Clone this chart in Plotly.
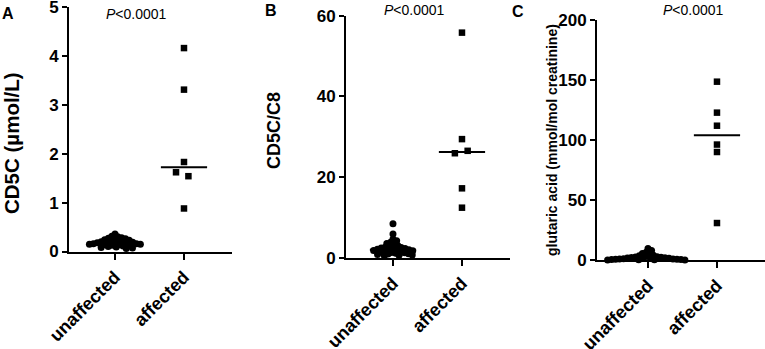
import numpy as np
import plotly.graph_objects as go

# ---------------- data ----------------
categories = ["unaffected", "affected"]

a_unaffected = [0.36, 0.31, 0.30, 0.28, 0.27, 0.26, 0.25, 0.24, 0.23, 0.22, 0.21,
                0.20, 0.20, 0.19, 0.18, 0.18, 0.17, 0.17, 0.16, 0.16, 0.15, 0.15,
                0.14, 0.14, 0.13, 0.12, 0.11, 0.10, 0.09, 0.08, 0.07, 0.06]
a_affected = [4.16, 3.31, 1.83, 1.62, 1.54, 0.88]

b_unaffected = [8.4, 5.9, 4.6, 4.2, 3.8, 3.5, 3.2, 3.0, 2.8, 2.6, 2.5, 2.4, 2.3,
                2.2, 2.1, 2.0, 2.0, 1.9, 1.8, 1.7, 1.6, 1.5, 1.4, 1.3, 1.2, 1.1,
                1.0, 0.9, 0.8, 0.7, 0.6, 0.5]
b_affected = [55.8, 29.4, 26.5, 25.9, 17.2, 12.4]

c_unaffected = [9.5, 8.0, 6.5, 5.5, 4.5, 4.0, 3.5, 3.0, 2.8, 2.5, 2.2, 2.0, 1.8,
                1.6, 1.5, 1.3, 1.2, 1.0, 0.9, 0.8, 0.7, 0.6, 0.5, 0.4, 0.3, 0.2,
                0.1, 0.0]
c_affected = [148.6, 122.8, 111.9, 96.2, 90.0, 30.8]

a_ticks = [0, 1, 2, 3, 4, 5]
b_ticks = [0, 20, 40, 60]
c_ticks = [0, 50, 100, 150, 200]

y_titles = ["CD5C (µmol/L)", "CD5C/C8", "glutaric acid (mmol/mol creatinine)"]
panel_letters = ["A", "B", "C"]
p_label = "<i>P</i>&lt;0.0001"

# ---------------- layout helpers ----------------
W, H = 765, 349
FONT = "Liberation Sans, Arial, Helvetica, sans-serif"
CAT_PX = 69.0  # pixels per category step


def px_x(p):
    return p / W


def px_y(p):
    return 1 - p / H


def swarm(values, px_per_unit, d, prefer):
    vals = np.asarray(values, dtype=float)
    order = np.argsort(-vals, kind="stable")
    placed = []
    offs = np.zeros(len(vals))
    for i in order:
        y = vals[i] * px_per_unit
        near = [(x0, y0) for x0, y0 in placed if abs(y0 - y) < d]
        cands = [0.0]
        for x0, y0 in near:
            dx = np.sqrt(d * d - (y - y0) ** 2)
            cands += [x0 + dx, x0 - dx]
        valid = [c for c in cands
                 if all((c - x0) ** 2 + (y - y0) ** 2 >= d * d - 1e-6 for x0, y0 in near)]
        best = min(valid, key=lambda c: (round(abs(c), 6), 0 if c * prefer >= 0 else 1))
        offs[i] = best
        placed.append((best, y))
    return offs / CAT_PX


panels = [
    dict(unaff=a_unaffected, aff=a_affected, ticks=a_ticks, yr=[0, 5],
         xdom=(69, 232), ydom=(251.5, 7), xr=[-0.667, 1.696],
         d_c=4, d_s=13, pref=-1, title=y_titles[0], tsize=20.5, tpos=(11, 143),
         letter=(8, 13), ptxt=(136, 14)),
    dict(unaff=b_unaffected, aff=b_affected, ticks=b_ticks, yr=[0, 60],
         xdom=(346, 510), ydom=(257.7, 15.7), xr=[-0.681, 1.696],
         d_c=4, d_s=13, pref=1, title=y_titles[1], tsize=18, tpos=(274, 131),
         letter=(271, 10), ptxt=(415, 10)),
    dict(unaff=c_unaffected, aff=c_affected, ticks=c_ticks, yr=[0, 200],
         xdom=(597, 765), ydom=(260, 20), xr=[-0.739, 1.696],
         d_c=4, d_s=7, pref=1, title=y_titles[2], tsize=14, tpos=(552, 140),
         letter=(518, 11), ptxt=(693, 10)),
]

fig = go.Figure()
layout = dict(
    width=W, height=H, margin=dict(l=0, r=0, t=0, b=0, autoexpand=False),
    paper_bgcolor="white", plot_bgcolor="white", showlegend=False,
    font=dict(family=FONT, color="black"),
    annotations=[],
)

for k, p in enumerate(panels):
    sfx = "" if k == 0 else str(k + 1)
    xa, ya = "x" + sfx, "y" + sfx
    ppu = (p["ydom"][0] - p["ydom"][1]) / (p["yr"][1] - p["yr"][0])

    # median lines
    for ci, vals in enumerate([p["unaff"], p["aff"]]):
        med = float(np.median(vals))
        fig.add_trace(go.Scatter(
            x=[ci - 0.335, ci + 0.335], y=[med, med], mode="lines",
            line=dict(color="black", width=2), xaxis=xa, yaxis=ya,
            hoverinfo="skip", cliponaxis=False))

    off_u = swarm(p["unaff"], ppu, p["d_c"], p["pref"])
    fig.add_trace(go.Scatter(
        x=0 + off_u, y=p["unaff"], mode="markers",
        marker=dict(symbol="circle", size=7, color="black"),
        xaxis=xa, yaxis=ya, cliponaxis=False))
    off_a = swarm(p["aff"], ppu, p["d_s"], p["pref"])
    fig.add_trace(go.Scatter(
        x=1 + off_a, y=p["aff"], mode="markers",
        marker=dict(symbol="square", size=6.5, color="black"),
        xaxis=xa, yaxis=ya, cliponaxis=False))

    layout["xaxis" + sfx] = dict(
        domain=[px_x(p["xdom"][0]), px_x(p["xdom"][1])], range=p["xr"],
        anchor=ya, showgrid=False, zeroline=False, showline=True,
        automargin=False, ticklabeloverflow="allow",
        linecolor="black", linewidth=2, ticks="outside", ticklen=6,
        tickwidth=2, tickcolor="black", tickvals=[0, 1], ticktext=categories,
        tickangle=-45, tickfont=dict(size=18, family=FONT, weight="bold"),
        fixedrange=True)
    layout["yaxis" + sfx] = dict(
        domain=[px_y(p["ydom"][0]), px_y(p["ydom"][1])], range=p["yr"],
        anchor=xa, showgrid=False, zeroline=False, showline=True,
        automargin=False, ticklabeloverflow="allow",
        linecolor="black", linewidth=2, ticks="outside", ticklen=5,
        tickwidth=2, tickcolor="black", tickvals=p["ticks"],
        tickfont=dict(size=17, family=FONT, weight="bold"), fixedrange=True)

    layout["annotations"] += [
        dict(text=p["title"], x=px_x(p["tpos"][0]), y=px_y(p["tpos"][1]),
             xref="paper", yref="paper", textangle=-90, showarrow=False,
             xanchor="center", yanchor="middle",
             font=dict(size=p["tsize"], family=FONT, weight="bold")),
        dict(text="<b>" + panel_letters[k] + "</b>", x=px_x(p["letter"][0]),
             y=px_y(p["letter"][1]), xref="paper", yref="paper",
             showarrow=False, xanchor="center", yanchor="middle",
             font=dict(size=16, family=FONT)),
        dict(text=p_label, x=px_x(p["ptxt"][0]), y=px_y(p["ptxt"][1]),
             xref="paper", yref="paper", showarrow=False,
             xanchor="center", yanchor="middle",
             font=dict(size=14, family=FONT)),
    ]

fig.update_layout(**layout)
fig.write_html(
    "out.html",
    config={"displayModeBar": False},
    post_script="document.body.style.margin='0';document.body.style.padding='0';"
)
